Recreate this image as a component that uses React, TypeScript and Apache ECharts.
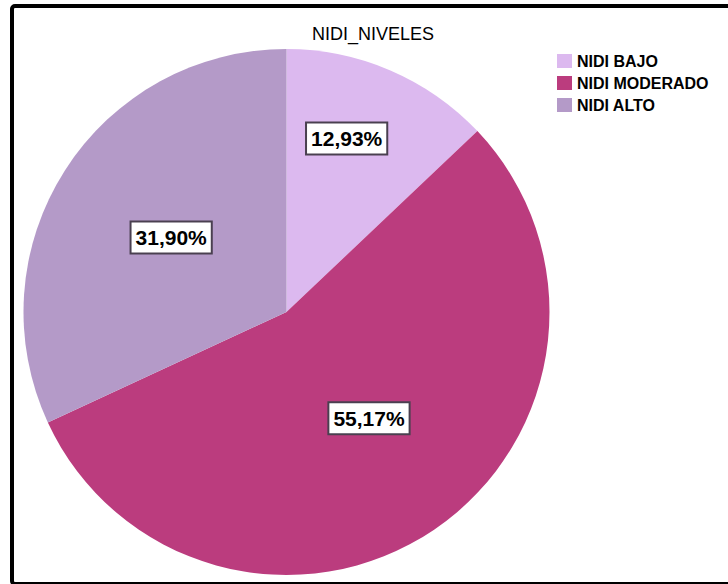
import React, { useEffect, useRef } from "react";
import * as echarts from "echarts";

const categories = ["NIDI BAJO", "NIDI MODERADO", "NIDI ALTO"];
const values = [12.93, 55.17, 31.9];
const colors = ["#dcb9ef", "#bb3c7e", "#b49ac8"];
const labelOffsets = [
  [7, -50],
  [7, -5],
  [-2, -2],
];

const FONT = "Arial, 'Liberation Sans', sans-serif";

export default function App() {
  const ref = useRef<HTMLDivElement>(null);
  useEffect(() => {
    if (!ref.current) return;
    const chart = echarts.init(ref.current, null, { renderer: "svg" });
    chart.setOption({
      animation: false,
      backgroundColor: "#ffffff",
      title: {
        text: "NIDI_NIVELES",
        left: 312,
        top: 25,
        padding: 0,
        textStyle: { fontFamily: FONT, fontSize: 18, fontWeight: "normal", color: "#000" },
      },
      legend: {
        orient: "vertical",
        left: 557,
        top: 53,
        padding: 0,
        itemWidth: 15,
        itemHeight: 14,
        itemGap: 6,
        icon: "rect",
        data: categories,
        textStyle: { fontFamily: FONT, fontSize: 16, fontWeight: "bold", color: "#000", lineHeight: 14 },
      },
      graphic: [
        {
          type: "rect",
          shape: { x: 12, y: 6, width: 730, height: 578, r: 3 },
          style: { fill: "none", stroke: "#000", lineWidth: 4 },
          z: 100,
        },
      ],
      series: [
        {
          type: "pie",
          center: [286.5, 312],
          radius: 263,
          startAngle: 90,
          clockwise: true,
          label: {
            show: true,
            position: "inside",
            formatter: (p: any) => p.value.toFixed(2).replace(".", ",") + "%",
            fontFamily: FONT,
            fontSize: 21,
            fontWeight: "bold",
            color: "#000",
            backgroundColor: "#ffffff",
            borderColor: "#4a4050",
            borderWidth: 2,
            padding: [3, 4],
            lineHeight: 24,
          },
          labelLine: { show: false },
          emphasis: { disabled: true },
          data: categories.map((name, i) => ({
            name,
            value: values[i],
            itemStyle: { color: colors[i] },
            label: { offset: labelOffsets[i] },
          })),
        },
      ],
    });
    return () => chart.dispose();
  }, []);
  return (
    <div
      ref={ref}
      style={{ position: "absolute", left: 0, top: 0, width: 728, height: 584 }}
    />
  );
}
